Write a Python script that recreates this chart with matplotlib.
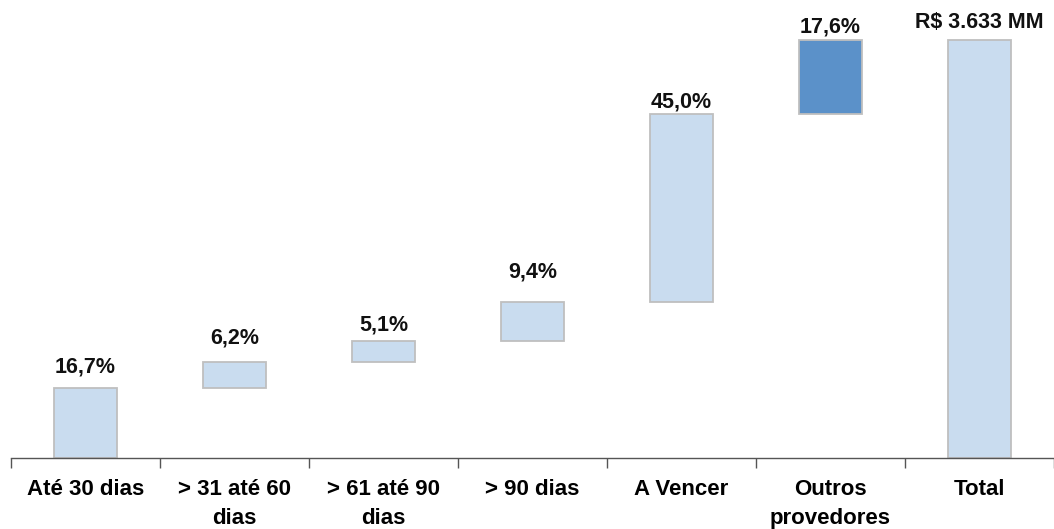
import matplotlib
matplotlib.use("Agg")
import matplotlib.pyplot as plt

plt.rcParams['font.family'] = ['Liberation Sans', 'DejaVu Sans']

categories = ["Até 30 dias", "> 31 até 60\ndias", "> 61 até 90\ndias", "> 90 dias",
              "A Vencer", "Outros\nprovedores", "Total"]
shares = [16.7, 6.2, 5.1, 9.4, 45.0, 17.6]
total_share = 100.0
labels = ["16,7%", "6,2%", "5,1%", "9,4%", "45,0%", "17,6%", "R$ 3.633 MM"]

# gap (in pixels) between each bar top and its label baseline
label_gaps = [16, 19, 10, 24, 6, 8, 12]

light = "#C9DCEF"
dark = "#5B91C9"
edge = "#BFBFBF"

fig = plt.figure(figsize=(10.54, 5.29), dpi=100)
ax = fig.add_axes([0.0104, 0.1342, 0.9896, 0.8658])

bottoms = []
run = 0.0
for v in shares:
    bottoms.append(run)
    run += v
heights = shares + [total_share]
bottoms = bottoms + [0.0]
colors = [light] * 5 + [dark, light]

x = list(range(len(categories)))
ax.bar(x, heights, bottom=bottoms, width=0.42, color=colors, edgecolor=edge, linewidth=1.3, zorder=2)

for xi, b, h, lab, gap in zip(x, bottoms, heights, labels, label_gaps):
    ax.annotate(lab, (xi, b + h), xytext=(0, gap), textcoords='offset pixels',
                ha='center', va='baseline', fontsize=15.5, fontweight='bold', color='#111111')

ax.set_xlim(-0.5, len(categories) - 0.5)
ax.set_ylim(0, 109.6)
ax.set_yticks([])
for s in ['left', 'right', 'top']:
    ax.spines[s].set_visible(False)
ax.spines['bottom'].set_color('#555555')
ax.spines['bottom'].set_linewidth(1.0)

ax.set_xticks([i - 0.5 for i in range(len(categories) + 1)], minor=False)
ax.set_xticklabels([])
ax.tick_params(axis='x', which='major', direction='out', length=7, width=1.0, color='#555555')
ax.set_xticks(x, minor=True)
ax.set_xticklabels(categories, minor=True, fontsize=16, fontweight='bold', linespacing=1.5)
ax.tick_params(axis='x', which='minor', length=0, pad=15)

fig.savefig("out.png", dpi=100)
